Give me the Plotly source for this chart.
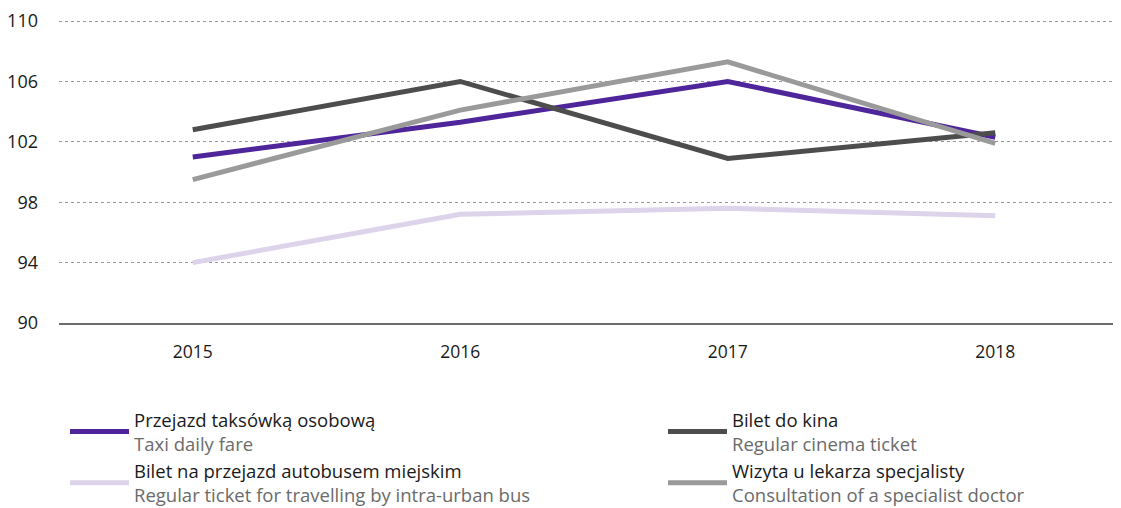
import plotly.graph_objects as go

years = ["2015", "2016", "2017", "2018"]
taxi = [101.0, 103.3, 106.0, 102.3]
cinema = [102.8, 106.0, 100.9, 102.6]
bus = [94.0, 97.2, 97.6, 97.1]
doctor = [99.5, 104.1, 107.3, 101.9]

names_pl = ["Przejazd taksówką osobową", "Bilet do kina",
            "Bilet na przejazd autobusem miejskim", "Wizyta u lekarza specjalisty"]
names_en = ["Taxi daily fare", "Regular cinema ticket",
            "Regular ticket for travelling by intra-urban bus", "Consultation of a specialist doctor"]
series = [taxi, cinema, bus, doctor]
colors = ["#4f259b", "#4d4d4d", "#ddd3ea", "#9a9a9a"]
legend_ids = ["legend", "legend2", "legend", "legend2"]
legend_rank = [1, 1, 2, 2]
y_ticks = [90, 94, 98, 102, 106, 110]

FONT = "Open Sans"
# page body has an 8px margin, so the figure is sized to fit the window exactly
W, H = 1113, 500
ML, MT, MB = 51, 12, 185
PW = W - ML
PH = H - MT - MB
fig = go.Figure()
# drawing order: bus, taxi, cinema, doctor
for i in [2, 0, 1, 3]:
    fig.add_trace(go.Scatter(
        x=years, y=series[i], mode="lines",
        line=dict(color=colors[i], width=5),
        name=f"{names_pl[i]}<br><span style='color:#6b6b6b'>{names_en[i]}</span>",
        legend=legend_ids[i], legendrank=legend_rank[i],
        hoverinfo="skip",
    ))

leg_y = -78 / PH
leg_common = dict(
    orientation="v", yanchor="top", xanchor="left", y=leg_y,
    valign="middle", itemwidth=59, tracegroupgap=0,
    font=dict(family=FONT, size=18.5, color="#1a1a1a"),
    bgcolor="rgba(0,0,0,0)",
)

fig.update_layout(
    width=W, height=H,
    margin=dict(l=ML, r=0, t=MT, b=MB, autoexpand=False),
    paper_bgcolor="white", plot_bgcolor="white",
    font=dict(family=FONT, size=18, color="#1a1a1a"),
    showlegend=True,
    legend=dict(x=(57 - ML) / PW, **leg_common),
    legend2=dict(x=(655 - ML) / PW, **leg_common),
    xaxis=dict(
        type="category", range=[-0.5, 3.47], automargin=False,
        showgrid=False, ticks="", showline=True, linecolor="#6b6b6b", linewidth=2,
        tickfont=dict(size=17.5), zeroline=False, ticklabelstandoff=12,
    ),
    yaxis=dict(
        range=[90, 110.07], tickvals=y_ticks, ticktext=[str(v) for v in y_ticks],
        automargin=False,
        showgrid=True, gridcolor="#999999", griddash="dot", gridwidth=1,
        zeroline=False, ticks="", tickfont=dict(size=18), ticklabelstandoff=20,
    ),
)
fig.write_html("out.html")
